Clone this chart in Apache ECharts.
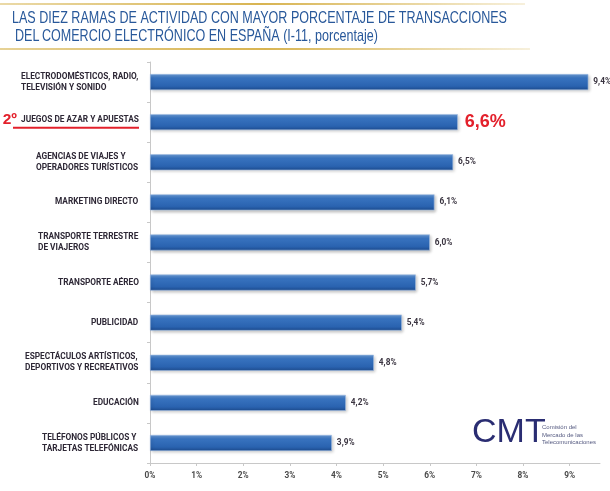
<!DOCTYPE html>
<html><head><meta charset="utf-8">
<script src="https://cdn.jsdelivr.net/npm/echarts@6/dist/echarts.min.js"></script>
<style>html,body{margin:0;padding:0;background:#fff}#c{width:610px;height:491px}</style>
</head><body><div id="c"></div>
<script>
var categories = [
  'ELECTRODOMÉSTICOS, RADIO,\nTELEVISIÓN Y SONIDO',
  'JUEGOS DE AZAR Y APUESTAS',
  'AGENCIAS DE VIAJES Y\nOPERADORES TURÍSTICOS',
  'MARKETING DIRECTO',
  'TRANSPORTE TERRESTRE\nDE VIAJEROS',
  'TRANSPORTE AÉREO',
  'PUBLICIDAD',
  'ESPECTÁCULOS ARTÍSTICOS,\nDEPORTIVOS Y RECREATIVOS',
  'EDUCACIÓN',
  'TELÉFONOS PÚBLICOS Y\nTARJETAS TELEFÓNICAS'
];
var values = [9.4, 6.6, 6.5, 6.1, 6.0, 5.7, 5.4, 4.8, 4.2, 3.9];
var highlightIndex = 1;
var xTicks = [0,1,2,3,4,5,6,7,8,9];
var titleLines = ['LAS DIEZ RAMAS DE ACTIVIDAD CON MAYOR PORCENTAJE DE TRANSACCIONES', 'DEL\u2009COMERCIO ELECTRÓNICO EN ESPAÑA (I-11, porcentaje)'];

var LF = 'Roboto', LS = 8.3;
var ctx = document.createElement('canvas').getContext('2d');
var TF = '"Liberation Sans"', TS = 16.5;
ctx.font = TS + 'px ' + TF;
var titleScale = 495 / ctx.measureText(titleLines[0]).width;
ctx.font = 'bold ' + LS + 'px ' + LF;
function blockWidth(s){ return Math.max.apply(null, s.split('\n').map(function(l){return Math.ceil(ctx.measureText(l).width);})); }

var chart = echarts.init(document.getElementById('c'));
var blueBar = new echarts.graphic.LinearGradient(0,0,0,1,[
  {offset:0,color:'#6d9dd8'},{offset:0.25,color:'#3873bf'},{offset:0.75,color:'#2a63b0'},{offset:1,color:'#1d4b8e'}]);

var rich = {};
categories.forEach(function(c,i){ rich['w'+i] = {width: blockWidth(c), align:'left', fontFamily:LF, fontWeight:'bold', fontSize:LS, color:'#2e2836', lineHeight:11}; });
rich.red = {color:'#e3202b', fontFamily:'Liberation Sans', fontWeight:'bold', fontSize:15.5, lineHeight:11, padding:[0,4,0,0]};
rich.ul = {width: blockWidth(categories[1]) + 8, height:2, backgroundColor:'#e3202b', lineHeight:4};

var option = {
  animation:false,
  grid:{left:150, right:10, top:62, bottom:28, outerBoundsMode:'none', containLabel:false},
  xAxis:{type:'value', min:0, max:9.65, interval:1,
    axisLine:{show:true, lineStyle:{color:'#c8c8c8'}},
    axisTick:{show:true, length:3, lineStyle:{color:'#c8c8c8'}},
    splitLine:{show:false},
    axisLabel:{margin:9, fontFamily:LF, fontWeight:'bold', fontSize:LS, color:'#4a4a4a', showMaxLabel:false,
      formatter:function(v){ return xTicks.indexOf(Math.round(v*100)/100) >= 0 ? v + '%' : ''; }}
  },
  yAxis:{type:'category', inverse:true, data:categories,
    axisLine:{show:true, lineStyle:{color:'#c8c8c8'}},
    axisTick:{show:true, length:3, inside:false, lineStyle:{color:'#c8c8c8'}},
    axisLabel:{margin:11, align:'right', rich:rich,
      formatter:function(v, i){
        var lines = v.split('\n').map(function(l){ return '{w'+i+'|'+l+'}'; }).join('\n');
        if (i === highlightIndex) return '{red|2º}' + lines + '\n{ul|}';
        return lines;
      }}
  },
  series:[{type:'bar', barWidth:16,
    data: values.map(function(v,i){
      var d = {value:v};
      if (i === highlightIndex) d.label = {color:'#e3202b', fontSize:18, fontFamily:'Liberation Sans', fontWeight:'bold', distance:7};
      return d;
    }),
    itemStyle:{color:blueBar, borderColor:'#9dbbe0', borderWidth:0.6, shadowColor:'rgba(0,0,0,0.25)', shadowBlur:3, shadowOffsetX:1.5, shadowOffsetY:1.5},
    label:{show:true, position:'right', distance:5, fontFamily:LF, fontWeight:'bold', fontSize:LS, color:'#3a3440',
      formatter:function(p){ return p.value.toFixed(1).replace('.', ',') + '%'; }}
  }],
  graphic:[
    {type:'rect', shape:{x:0,y:3,width:525,height:2}, style:{fill:new echarts.graphic.LinearGradient(0,0,1,0,[{offset:0,color:'rgba(214,180,80,0.5)'},{offset:0.5,color:'#d8b452'},{offset:1,color:'rgba(214,180,80,0.2)'}])}},
    {type:'rect', shape:{x:0,y:48,width:530,height:2}, style:{fill:new echarts.graphic.LinearGradient(0,0,1,0,[{offset:0,color:'rgba(214,180,80,0.6)'},{offset:0.5,color:'#d8b452'},{offset:1,color:'rgba(214,180,80,0.2)'}])}},
    {type:'text', x:12, y:9.5, scaleX:titleScale, style:{text:titleLines[0], fontFamily:'Liberation Sans', fontSize:TS, fill:'#28589a'}},
    {type:'text', x:15, y:27.5, scaleX:titleScale, style:{text:titleLines[1], fontFamily:'Liberation Sans', fontSize:TS, fill:'#28589a'}},
    {type:'text', x:472, y:416, style:{text:'CMT', fontFamily:'Liberation Sans', fontSize:34, fill:'#2a2d72'}},
    {type:'text', x:542, y:424, style:{text:'Comisión del\nMercado de las\nTelecomunicaciones', fontFamily:'Liberation Sans', fontSize:6, lineHeight:7.5, fill:'#555a80'}}
  ]
};
chart.setOption(option);
</script></body></html>
